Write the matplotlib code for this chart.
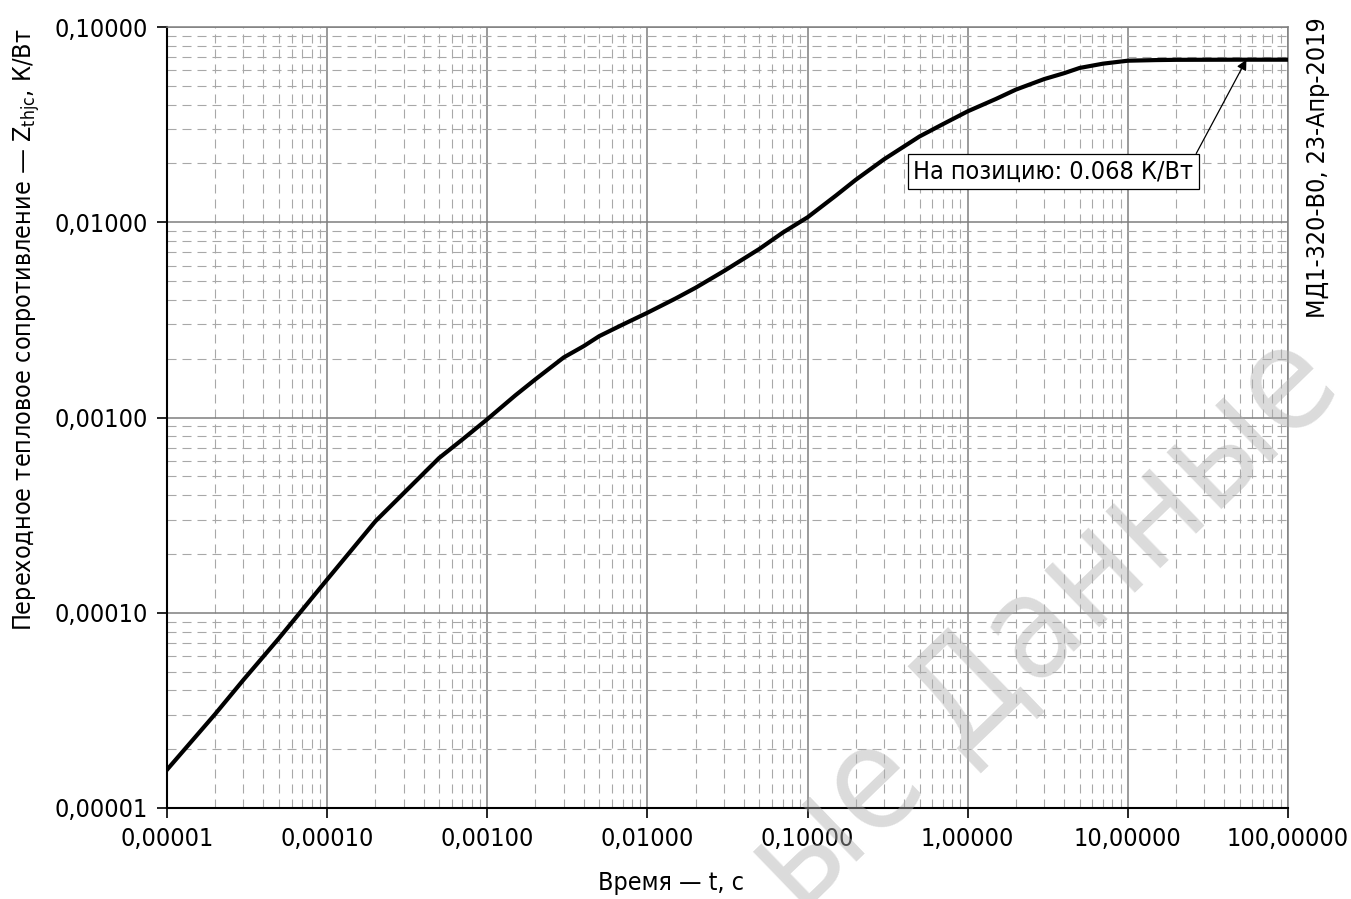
import matplotlib
matplotlib.use("Agg")
import matplotlib.pyplot as plt
from matplotlib.ticker import LogLocator, FuncFormatter, NullFormatter

# readings: time, s  ->  Zthjc, K/W
t_sec = [1e-5, 2e-5, 3e-5, 5e-5, 1e-4, 2e-4, 3e-4, 5e-4, 7e-4, 1e-3,
         1.5e-3, 2e-3, 3e-3, 4e-3, 5e-3, 7e-3, 1e-2, 1.5e-2, 2e-2, 3e-2,
         5e-2, 7e-2, 1e-1, 1.5e-1, 2e-1, 3e-1, 5e-1, 7e-1, 1.0, 1.5,
         2.0, 3.0, 4.0, 5.0, 7.0, 10.0, 15.0, 20.0, 50.0, 100.0]
z_thjc = [1.57e-5, 3.03e-5, 4.53e-5, 7.4e-5, 1.48e-4, 2.94e-4, 4.09e-4, 6.2e-4, 7.72e-4, 9.8e-4,
          1.30e-3, 1.57e-3, 2.03e-3, 2.32e-3, 2.61e-3, 2.99e-3, 3.44e-3, 4.07e-3, 4.62e-3, 5.62e-3,
          7.3e-3, 8.85e-3, 1.06e-2, 1.368e-2, 1.65e-2, 2.10e-2, 2.75e-2, 3.18e-2, 3.70e-2, 4.28e-2,
          4.78e-2, 5.41e-2, 5.80e-2, 6.17e-2, 6.49e-2, 6.72e-2, 6.77e-2, 6.79e-2, 6.80e-2, 6.80e-2]

marker_t = 55.0
marker_z = 0.068
marker_text = "На позицию: 0.068 К/Вт"
side_text = "МД1-320-В0, 23-Апр-2019"
watermark = "ые Данные"

W, H = 1351, 899

plt.rcParams["font.family"] = ["DejaVu Sans"]
plt.rcParams["font.stretch"] = "condensed"
plt.rcParams["mathtext.default"] = "regular"
plt.rcParams["lines.scale_dashes"] = False

fig = plt.figure(figsize=(W / 100, H / 100), dpi=100)
ax = fig.add_axes([167 / W, 1 - 808 / H, (1288 - 167) / W, (808 - 27) / H])

ax.set_xscale("log")
ax.set_yscale("log")
ax.set_xlim(1e-5, 100)
ax.set_ylim(1e-5, 0.1)

ax.plot(t_sec, z_thjc, color="black", linewidth=3, solid_joinstyle="round", zorder=5)

fmt = FuncFormatter(lambda v, pos: ("%.5f" % v).replace(".", ","))
ax.xaxis.set_major_locator(LogLocator(base=10, numticks=20))
ax.yaxis.set_major_locator(LogLocator(base=10, numticks=20))
ax.xaxis.set_minor_locator(LogLocator(base=10, subs=range(2, 10), numticks=40))
ax.yaxis.set_minor_locator(LogLocator(base=10, subs=range(2, 10), numticks=40))
ax.xaxis.set_major_formatter(fmt)
ax.yaxis.set_major_formatter(fmt)
ax.xaxis.set_minor_formatter(NullFormatter())
ax.yaxis.set_minor_formatter(NullFormatter())

ax.grid(which="major", color="#7f7f7f", linewidth=1.1, linestyle="-")
ax.grid(which="minor", color="#a8a8a8", linewidth=0.8, linestyle=(0, (6.5, 4.3)))
ax.set_axisbelow(True)

ax.tick_params(which="major", direction="out", length=7.5, width=1.2, color="black",
               labelsize=18, pad=6)
ax.tick_params(which="minor", length=0)

for side in ("left", "bottom"):
    ax.spines[side].set_color("black")
    ax.spines[side].set_linewidth(1.5)
for side in ("top", "right"):
    ax.spines[side].set_color("#7f7f7f")
    ax.spines[side].set_linewidth(1.1)

fig.text(671 / W, 1 - 883 / H, "Время — t, с", ha="center", va="center", fontsize=18)
fig.text(27 / W, 1 - 330 / H, "Переходное тепловое сопротивление — Z$_{thjc}$, К/Вт",
         rotation=90, ha="center", va="center", fontsize=18)

ax.annotate(marker_text, xy=(marker_t, marker_z), xytext=(3.41, 0.0182),
            textcoords="data", ha="center", va="center", fontsize=18, zorder=6,
            bbox=dict(boxstyle="square,pad=0.22", facecolor="white", edgecolor="black", linewidth=0.9),
            arrowprops=dict(arrowstyle="-|>", color="black", linewidth=0.9, mutation_scale=15,
                            relpos=(1, 1), shrinkA=0, shrinkB=0))

fig.text(1318 / W, 1 - 17 / H, side_text, rotation=90, ha="center", va="top", fontsize=18)

# watermark runs off the bottom edge, as in the source picture
fig.text(1045 / W, 1 - 625 / H, watermark, rotation=44, ha="center", va="center",
         fontsize=104, color="#b0b0b0", alpha=0.45, zorder=20, rotation_mode="anchor")

fig.savefig("out.png", dpi=100)
